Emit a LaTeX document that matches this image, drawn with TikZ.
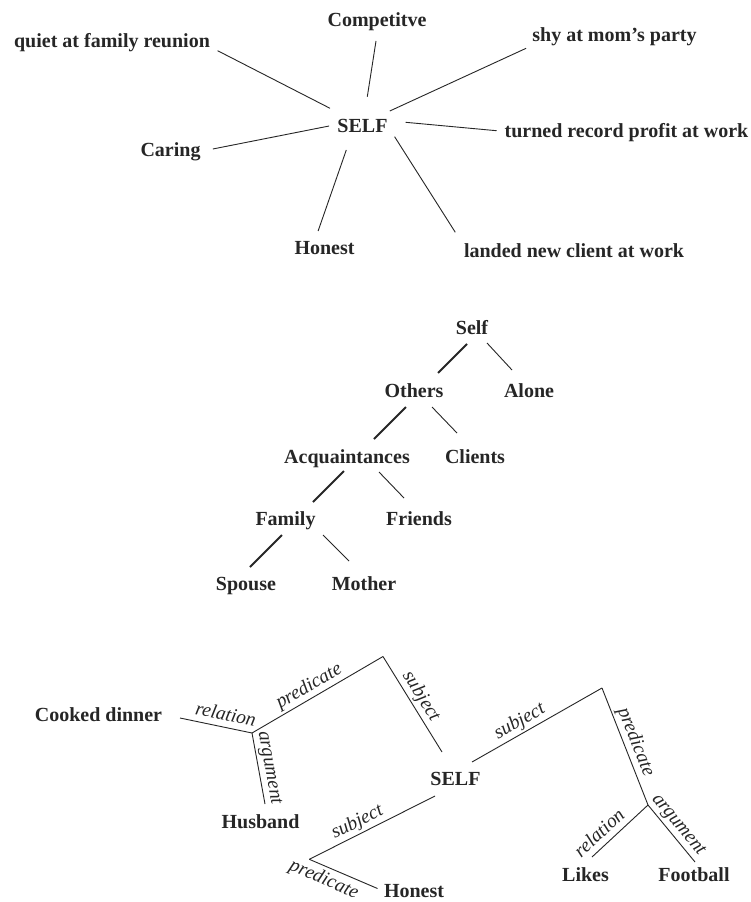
\documentclass[tikz,border=0pt]{standalone}
\usepackage{fontspec}
\setmainfont{Liberation Serif}
\begin{document}
\begin{tikzpicture}[x=1pt,y=-1pt,
  word/.style={font=\bfseries\fontsize{20}{24}\selectfont, inner sep=0pt, anchor=base, text=black!85},
  edgelbl/.style={font=\itshape\fontsize{19.5}{23}\selectfont, sloped, inner sep=4pt, text depth=0.22em, text=black!85},
  ln/.style={line width=0.9pt, black!85},
  thk/.style={line width=1.9pt, black!85}]
\fill[white] (0,0) rectangle (750,902);
\useasboundingbox (0,0) rectangle (750,902);

% ---------- star ----------
\node[word] (self)    at (362.5,132.5) {SELF};
\node[word] (quiet)   at (112,47)      {quiet at family reunion};
\node[word] (comp)    at (377,26.5)    {Competitve};
\node[word] (shy)     at (614.5,41.7)  {shy at mom’s party};
\node[word] (turned)  at (626.5,137.7) {turned record profit at work};
\node[word] (caring)  at (170.5,156.7) {Caring};
\node[word] (honest)  at (324.5,254)   {Honest};
\node[word] (landed)  at (574,257.3)   {landed new client at work};

\draw[ln] ([shift={(-32.5,-24.2)}]self.base) -- ([shift={(105.6,3.7)}]quiet.base);
\draw[ln] ([shift={(4.8,-35.8)}]self.base)   -- ([shift={(-1,14.5)}]comp.base);
\draw[ln] ([shift={(27.3,-21.5)}]self.base)  -- ([shift={(-88.4,6.6)}]shy.base);
\draw[ln] ([shift={(43.1,-10.2)}]self.base)  -- ([shift={(-130,-7)}]turned.base);
\draw[ln] ([shift={(-33.4,-6.5)}]self.base)  -- ([shift={(42.3,-7.7)}]caring.base);
\draw[ln] ([shift={(-16.2,17.5)}]self.base)  -- ([shift={(-6.4,-23)}]honest.base);
\draw[ln] ([shift={(32.1,4.2)}]self.base)    -- ([shift={(-118.7,-25)}]landed.base);

% ---------- tree ----------
\node[word] (tself)   at (472,334.8) {Self};
\node[word] (others)  at (414,397.3) {Others};
\node[word] (alone)   at (529,397.3) {Alone};
\node[word] (acq)     at (347,463.3) {Acquaintances};
\node[word] (clients) at (475,463.3) {Clients};
\node[word] (family)  at (285.5,525) {Family};
\node[word] (friends) at (419,525)   {Friends};
\node[word] (spouse)  at (246,590)   {Spouse};
\node[word] (mother)  at (364,590)   {Mother};

\draw[thk] ([shift={(-5,9.2)}]tself.base)  -- ([shift={(24,-24.3)}]others.base);
\draw[ln]  ([shift={(15,8.2)}]tself.base)  -- ([shift={(-17,-27.3)}]alone.base);
\draw[thk] ([shift={(-8,9.7)}]others.base) -- ([shift={(27,-24.3)}]acq.base);
\draw[ln]  ([shift={(18,9.7)}]others.base) -- ([shift={(-18,-30.3)}]clients.base);
\draw[thk] ([shift={(-3,7.7)}]acq.base)    -- ([shift={(27.5,-23)}]family.base);
\draw[ln]  ([shift={(32,8.7)}]acq.base)    -- ([shift={(-15,-27)}]friends.base);
\draw[thk] ([shift={(-3.5,10)}]family.base) -- ([shift={(4,-23)}]spouse.base);
\draw[ln]  ([shift={(37.5,10)}]family.base) -- ([shift={(-15,-29)}]mother.base);

% ---------- predicate graph ----------
\node[word] (cooked)   at (98.5,721)   {Cooked dinner};
\node[word] (husband)  at (260.5,828.3) {Husband};
\node[word] (bself)    at (455.5,785)  {SELF};
\node[word] (likes)    at (585.5,881.7) {Likes};
\node[word] (football) at (694,881.7)  {Football};
\node[word] (bhonest)  at (414,897)  {Honest};

\coordinate (j1) at (252,733);
\coordinate (p1) at (383,656.5);
\coordinate (p2) at (602,688);
\coordinate (j2) at (648,805);
\coordinate (p3) at (309.3,859.3);

\draw[ln] ([shift={(81.5,-3)}]cooked.base) -- node[edgelbl, above, pos=0.6] {relation} (j1);
\draw[ln] (j1) -- node[edgelbl, above, pos=0.48] {predicate} (p1);
\draw[ln] (j1) -- node[edgelbl, above, pos=0.52] {argument} ([shift={(4.5,-24.3)}]husband.base);
\draw[ln] (p1) -- node[edgelbl, above, pos=0.48] {subject} ([shift={(-13.5,-33)}]bself.base);
\draw[ln] ([shift={(16.5,-23)}]bself.base) -- node[edgelbl, above, pos=0.41] {subject} (p2);
\draw[ln] (p2) -- node[edgelbl, above, pos=0.5] {predicate} (j2);
\draw[ln] (j2) -- node[edgelbl, above, pos=0.714] {relation} ([shift={(6.5,-24.7)}]likes.base);
\draw[ln] (j2) -- node[edgelbl, above, pos=0.47] {argument} ([shift={(1,-19.7)}]football.base);
\draw[ln] ([shift={(-20.5,11)}]bself.base) -- node[edgelbl, above, pos=0.576] {subject} (p3);
\draw[ln] (p3) -- node[edgelbl, below, pos=0.29] {predicate} ([shift={(-36.5,-8.5)}]bhonest.base);
\end{tikzpicture}
\end{document}
